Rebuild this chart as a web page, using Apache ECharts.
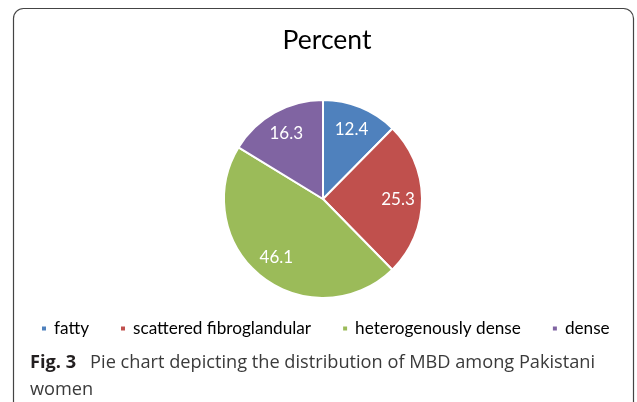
<!DOCTYPE html>
<html>
<head>
<meta charset="utf-8">
<script src="https://cdn.jsdelivr.net/npm/echarts@6/dist/echarts.min.js"></script>
<style>
html,body{margin:0;padding:0;background:#fff;}
#chart{width:637px;height:402px;}
</style>
</head>
<body>
<div id="chart"></div>
<script>
var categories = ['fatty', 'scattered fibroglandular', 'heterogenously dense', 'dense'];
var values = [12.4, 25.3, 46.1, 16.3];
var colors = ['#4F81BD', '#C0504D', '#9BBB59', '#8064A2'];
var chartTitle = 'Percent';
var captionBold = 'Fig. 3';
var captionText = 'Pie chart depicting the distribution of MBD among Pakistani';
var captionText2 = 'women';

var data = categories.map(function (c, i) {
  return { name: c, value: values[i], itemStyle: { color: colors[i] } };
});
var labelData = categories.map(function (c, i) {
  return { name: c, value: values[i] };
});

var chart = echarts.init(document.getElementById('chart'), null, { renderer: 'canvas' });
chart.setOption({
  animation: false,
  backgroundColor: '#fff',
  title: {
    text: chartTitle,
    left: 322, top: 22, textAlign: 'center',
    textStyle: { fontFamily: 'Lato', fontSize: 26.5, fontWeight: 'normal', color: '#000' }
  },
  legend: {
    data: categories,
    left: 40, top: 320, padding: 0,
    itemWidth: 6, itemHeight: 6, itemGap: 30,
    icon: 'rect',
    selectedMode: false,
    textStyle: { fontFamily: 'Lato', fontSize: 17.2, color: '#000', padding: [0, 0, 0, 2] }
  },
  graphic: [
    { type: 'rect', shape: { x: 13.5, y: 8.5, width: 620, height: 430, r: 10 },
      style: { fill: 'none', stroke: '#444', lineWidth: 1.2 }, silent: true },
    { type: 'text', left: 30, top: 354,
      style: { text: '{b|' + captionBold + '}{n|' + captionText + '}',
        rich: {
          b: { fontFamily: 'Open Sans', fontWeight: 'bold', fontSize: 18.2, fill: '#231f20', padding: [0, 14, 0, 0] },
          n: { fontFamily: 'Open Sans', fontSize: 18.2, fill: '#3a3a3a' }
        } } },
    { type: 'text', left: 30, top: 381,
      style: { text: captionText2, fontFamily: 'Open Sans', fontSize: 18.2, fill: '#3a3a3a' } }
  ],
  series: [
    {
      type: 'pie',
      center: [323, 199],
      radius: [0, 99],
      startAngle: 90,
      clockwise: true,
      data: data,
      label: { show: false },
      labelLine: { show: false },
      itemStyle: { borderColor: '#fff', borderWidth: 2 },
      emphasis: { disabled: true }
    },
    {
      type: 'pie',
      center: [323, 199],
      radius: [0, 144],
      startAngle: 90,
      clockwise: true,
      data: labelData,
      silent: true,
      legendHoverLink: false,
      itemStyle: { color: 'rgba(0,0,0,0)', borderWidth: 0 },
      label: { show: true, position: 'inside', color: '#fff', fontFamily: 'Lato', fontSize: 17,
        formatter: function (p) { return p.value.toFixed(1); } },
      labelLine: { show: false },
      emphasis: { disabled: true }
    }
  ]
});
</script>
</body>
</html>
